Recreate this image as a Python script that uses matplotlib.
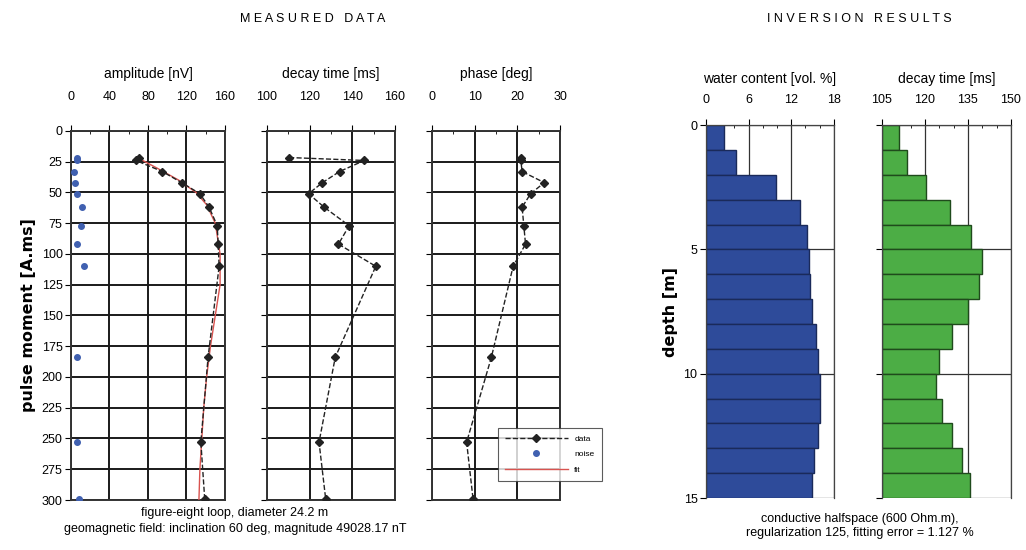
import numpy as np
import matplotlib
matplotlib.use('Agg')
import matplotlib.pyplot as plt
from matplotlib.ticker import MultipleLocator

plt.rcParams['font.family'] = ['Liberation Sans Narrow', 'Liberation Sans', 'DejaVu Sans']

# measured data
pulse_moment = [21.6, 24, 33, 42, 51, 62, 77, 92, 110, 184, 253, 299]
amplitude = [71, 67.5, 95, 115, 134, 143.6, 152, 153, 154, 142.5, 135, 139]
decay_time = [110.4, 145.6, 134, 126, 119.5, 126.8, 138.5, 133.5, 151, 132, 124.4, 127.5]
phase = [20.8, 20.8, 21.1, 26.3, 23.1, 21.1, 21.5, 21.9, 19, 13.9, 8.1, 9.6]
noise = [6, 6, 3.5, 4, 6, 11, 10, 6, 14, 6, 6, 8]

fit_pm = [22, 25, 30, 40, 50, 60, 75, 100, 125, 150, 175, 200, 225, 250, 275, 300]
fit_amp = [70, 77, 89, 112, 130, 141, 150, 155, 155, 150, 145, 141, 138, 136, 134, 133]

# inversion results (1 m layers)
layer_top = np.arange(0, 15)
water_content = [2.6, 4.2, 9.9, 13.2, 14.25, 14.5, 14.6, 14.95, 15.5, 15.8, 16.0, 16.0, 15.8, 15.2, 14.95]
inv_decay = [111.0, 113.9, 120.2, 128.7, 136.0, 139.8, 139.0, 135.1, 129.3, 125.0, 123.7, 125.8, 129.3, 133.0, 135.7]

fig = plt.figure(figsize=(10.26, 5.5), dpi=100)

grid_kw = dict(color='#1a1a1a', linewidth=1.4)


def style_measured(ax, xlim, major, minor, title, ylabels):
    ax.set_xlim(xlim)
    ax.set_ylim(300, 0)
    ax.xaxis.set_major_locator(MultipleLocator(major))
    ax.xaxis.set_minor_locator(MultipleLocator(minor))
    ax.yaxis.set_major_locator(MultipleLocator(25))
    ax.xaxis.tick_top()
    ax.grid(True, which='major', **grid_kw)
    ax.tick_params(axis='both', labelsize=9, length=4, width=0.8, pad=2)
    ax.tick_params(axis='x', which='major', pad=16)
    ax.tick_params(axis='x', which='minor', length=2, direction='in')
    ax.set_title(title, fontsize=10, pad=38)
    if not ylabels:
        ax.tick_params(axis='y', labelleft=False)
    for s in ax.spines.values():
        s.set_linewidth(1.4)
        s.set_color('#333333')


ax1 = fig.add_axes([0.0692, 0.0909, 0.150, 0.671])
ax1.plot(fit_amp, fit_pm, color='#d9534f', linewidth=1.0, label='fit', zorder=3)
ax1.plot(amplitude, pulse_moment, color='#222222', linestyle='--', linewidth=1.0,
         marker='D', markersize=4, label='data', zorder=4)
ax1.plot(noise, pulse_moment, linestyle='none', marker='o', markersize=4,
         color='#4060b0', label='noise', zorder=4)
style_measured(ax1, (0, 160), 40, 20, 'amplitude [nV]', True)
ax1.set_ylabel('pulse moment [A.ms]', fontsize=11.5, fontweight='bold',
               family=['DejaVu Sans'], labelpad=4)

ax2 = fig.add_axes([0.2602, 0.0909, 0.1248, 0.671])
ax2.plot(decay_time, pulse_moment, color='#222222', linestyle='--', linewidth=1.0,
         marker='D', markersize=4, zorder=4)
style_measured(ax2, (100, 160), 20, 10, 'decay time [ms]', False)

ax3 = fig.add_axes([0.4211, 0.0909, 0.1248, 0.671])
ax3.plot(phase, pulse_moment, color='#222222', linestyle='--', linewidth=1.0,
         marker='D', markersize=4, zorder=4)
style_measured(ax3, (0, 30), 10, 5, 'phase [deg]', False)

h, lab = ax1.get_legend_handles_labels()
order = [1, 2, 0]
leg = ax3.legend([h[i] for i in order], [lab[i] for i in order], fontsize=6,
                 loc='lower left', bbox_to_anchor=(0.48, 0.04), frameon=True,
                 fancybox=False, edgecolor='#333333', borderpad=0.9,
                 handlelength=7.5, labelspacing=0.9)
leg.get_frame().set_linewidth(0.8)
leg.set_zorder(10)


def style_inv(ax, xlim, major, minor, title, ylabels):
    ax.set_xlim(xlim)
    ax.set_ylim(15, 0)
    ax.xaxis.set_major_locator(MultipleLocator(major))
    ax.xaxis.set_minor_locator(MultipleLocator(minor))
    ax.yaxis.set_major_locator(MultipleLocator(5))
    ax.xaxis.tick_top()
    ax.grid(True, which='major', color='#333333', linewidth=0.9, zorder=0)
    ax.set_axisbelow(True)
    ax.tick_params(axis='both', labelsize=9, length=4, width=0.8, pad=2)
    ax.tick_params(axis='x', which='major', pad=10)
    ax.tick_params(axis='x', which='minor', length=2, direction='in')
    ax.set_title(title, fontsize=10, pad=30)
    if not ylabels:
        ax.tick_params(axis='y', labelleft=False)
    for s in ax.spines.values():
        s.set_linewidth(0.9)
        s.set_color('#444444')
    ax.spines['bottom'].set_visible(False)


ax4 = fig.add_axes([0.688, 0.0945, 0.1248, 0.678])
ax4.barh(layer_top, water_content, height=1.0, align='edge', left=0,
         color='#2e4b9a', edgecolor='#1a2a5a', linewidth=1.0, zorder=2)
style_inv(ax4, (0, 18), 6, 2, 'water content [vol. %]', True)
ax4.set_ylabel('depth [m]', fontsize=11.5, fontweight='bold',
               family=['DejaVu Sans'], labelpad=4)

ax5 = fig.add_axes([0.8596, 0.0945, 0.1257, 0.678])
ax5.barh(layer_top, [v - 105 for v in inv_decay], height=1.0, align='edge', left=105,
         color='#4cad45', edgecolor='#1f4a1c', linewidth=1.0, zorder=2)
style_inv(ax5, (105, 150), 15, 5, 'decay time [ms]', False)

fig.text(0.305, 0.965, 'M E A S U R E D   D A T A', ha='center', va='center', fontsize=9)
fig.text(0.838, 0.965, 'I N V E R S I O N   R E S U L T S', ha='center', va='center', fontsize=9)

fig.text(0.229, 0.067, 'figure-eight loop, diameter 24.2 m', ha='center', va='center', fontsize=9)
fig.text(0.229, 0.038, 'geomagnetic field: inclination 60 deg, magnitude 49028.17 nT',
         ha='center', va='center', fontsize=9)
fig.text(0.838, 0.056, 'conductive halfspace (600 Ohm.m),', ha='center', va='center', fontsize=9)
fig.text(0.838, 0.031, 'regularization 125, fitting error = 1.127 %',
         ha='center', va='center', fontsize=9)

fig.savefig('out.png', dpi=100)
